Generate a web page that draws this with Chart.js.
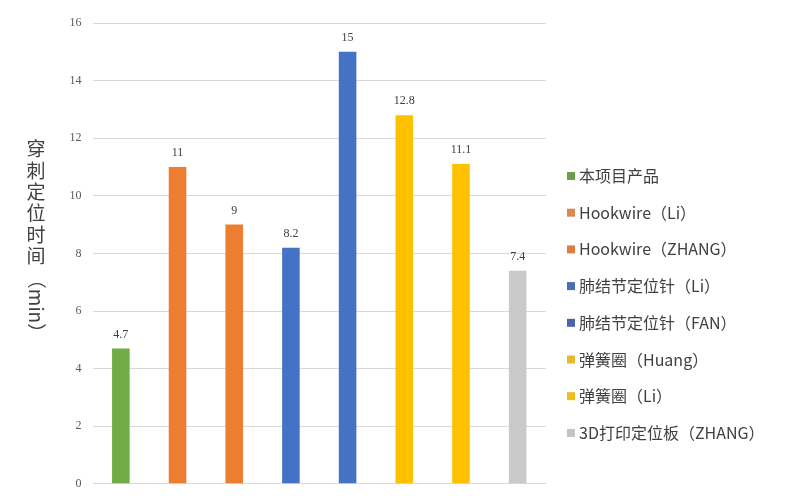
<!DOCTYPE html>
<html>
<head>
<meta charset="utf-8">
<script src="https://cdn.jsdelivr.net/npm/chart.js@4.4.1/dist/chart.umd.min.js"></script>
<style>
    html, body { margin: 0; padding: 0; background: #fff; }
    #wrap { width: 802px; height: 502px; position: relative; }
</style>
</head>
<body>
<div id="wrap"><canvas id="chart"></canvas></div>
<script>
// Dados do gráfico
const categories = ['本项目产品', 'Hookwire（Li）', 'Hookwire（ZHANG）', '肺结节定位针（Li）',
    '肺结节定位针（FAN）', '弹簧圈（Huang）', '弹簧圈（Li）', '3D打印定位板（ZHANG）'];
const values = [4.7, 11, 9, 8.2, 15, 12.8, 11.1, 7.4];
const yTicks = [0, 2, 4, 6, 8, 10, 12, 14, 16];
const yTitleChars = ['穿', '刺', '定', '位', '时', '间'];
const yTitleUnit = '（min）';

const colors = ['#70AD47', '#ED7D31', '#ED7D31', '#4472C4', '#4472C4', '#FFC000', '#FFC000', '#C9C9C9'];
const legendColors = ['#6E9E4C', '#D98A52', '#E07B3E', '#4A6FB5', '#4A62B0', '#E8B92E', '#EDBE1C', '#C4C4C4'];

// Um dataset por categoria, para que cada barra tenha sua entrada na legenda
const datasets = categories.map((name, i) => ({
    label: name,
    data: values.map((v, j) => (j === i ? v : null)),
    backgroundColor: colors[i],
    borderWidth: 0,
    barPercentage: 0.31,
    categoryPercentage: 1
}));

// Rótulos de valor acima das barras
const valueLabels = {
    id: 'valueLabels',
    afterDatasetsDraw(chart) {
        const ctx = chart.ctx;
        ctx.save();
        ctx.font = '12px "Liberation Serif"';
        ctx.fillStyle = '#404040';
        ctx.textAlign = 'center';
        ctx.textBaseline = 'bottom';
        chart.data.datasets.forEach((ds, i) => {
            const meta = chart.getDatasetMeta(i);
            meta.data.forEach((el, j) => {
                if (ds.data[j] === null) return;
                ctx.fillText(String(ds.data[j]), el.x, el.y - 8);
            });
        });
        ctx.restore();
    }
};

// Legenda à direita
const sideLegend = {
    id: 'sideLegend',
    afterDraw(chart) {
        const ctx = chart.ctx;
        ctx.save();
        ctx.font = '16px "Noto Sans CJK SC"';
        ctx.textBaseline = 'middle';
        ctx.textAlign = 'left';
        chart.data.datasets.forEach((ds, i) => {
            const y = 176 + i * 36.7;
            ctx.fillStyle = legendColors[i];
            ctx.fillRect(567, y - 4, 8, 8);
            ctx.fillStyle = '#404040';
            ctx.fillText(ds.label, 579, y);
        });
        ctx.restore();
    }
};

// Título do eixo Y em texto vertical
const yTitle = {
    id: 'yTitle',
    afterDraw(chart) {
        const ctx = chart.ctx;
        ctx.save();
        ctx.font = '19px "Noto Sans CJK SC"';
        ctx.fillStyle = '#404040';
        ctx.textAlign = 'center';
        ctx.textBaseline = 'middle';
        yTitleChars.forEach((c, k) => {
            ctx.fillText(c, 36, 149 + k * 21.4);
        });
        ctx.translate(36, 306);
        ctx.rotate(Math.PI / 2);
        ctx.fillText(yTitleUnit, 0, 0);
        ctx.restore();
    }
};

new Chart(document.getElementById('chart'), {
    type: 'bar',
    data: {
        labels: categories,
        datasets: datasets
    },
    options: {
        responsive: true,
        maintainAspectRatio: false,
        animation: false,
        layout: {
            padding: { top: 23, right: 256, bottom: 15, left: 0 }
        },
        plugins: {
            legend: { display: false },
            tooltip: { enabled: false }
        },
        scales: {
            x: {
                stacked: true,
                display: false
            },
            y: {
                stacked: true,
                min: 0,
                max: 16,
                afterFit: scale => { scale.width = 92.5; },
                afterBuildTicks: scale => {
                    scale.ticks = yTicks.map(v => ({ value: v }));
                },
                grid: {
                    color: '#D9D9D9',
                    drawTicks: false
                },
                border: { display: false },
                ticks: {
                    padding: 11,
                    color: '#595959',
                    font: { family: 'Liberation Serif', size: 12 }
                }
            }
        }
    },
    plugins: [valueLabels, sideLegend, yTitle]
});
</script>
</body>
</html>
